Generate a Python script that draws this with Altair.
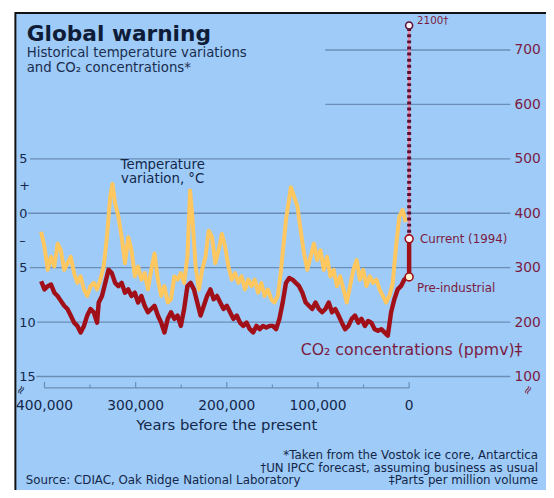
import altair as alt
import pandas as pd

# ---------------- data ----------------
# Temperature variation (deg C), thousands of years before present
temp_kyr = [403.6, 400.0, 396.4, 392.8, 389.2, 385.6, 382.0, 378.4, 374.8, 371.2,
            367.5, 363.9, 360.3, 356.7, 353.1, 349.5, 345.9, 342.3, 338.7, 335.1,
            331.5, 327.9, 325.4, 322.5, 318.9, 315.3, 311.7, 308.1, 304.5, 300.9,
            297.3, 293.7, 290.1, 286.5, 282.9, 279.3, 275.6, 272.0, 268.4, 264.8,
            261.2, 257.6, 254.0, 250.4, 246.8, 243.2, 240.3, 237.8, 234.2, 230.6,
            227.0, 223.4, 219.8, 216.2, 212.6, 209.0, 205.4, 201.8, 198.2, 194.6,
            190.9, 187.3, 183.7, 180.1, 176.5, 172.9, 169.3, 165.7, 162.1, 158.5,
            154.9, 151.3, 147.7, 144.1, 140.5, 135.1, 129.7, 126.1, 122.5, 118.9,
            115.3, 111.7, 108.1, 104.5, 100.9, 97.2, 93.6, 90.0, 86.4, 82.8,
            79.2, 75.6, 72.0, 68.4, 64.8, 61.2, 57.6, 54.0, 50.4, 46.8,
            43.2, 39.6, 36.0, 32.4, 28.8, 25.2, 21.6, 18.0, 14.4, 10.8,
            7.2, 3.6]
temp_c = [-1.7, -3.1, -5.2, -4.0, -4.9, -2.8, -3.4, -5.2, -4.6, -4.0,
          -5.5, -6.4, -5.8, -7.0, -7.6, -6.7, -6.4, -7.0, -6.1, -4.9,
          -2.2, 1.5, 2.7, 0.9, -0.3, -2.2, -4.6, -2.2, -3.4, -5.8,
          -4.9, -6.1, -5.5, -7.0, -5.2, -3.7, -6.1, -7.6, -6.7, -8.2,
          -7.9, -5.8, -6.1, -5.5, -6.4, -4.0, 2.1, -0.3, -4.9, -7.0,
          -5.2, -4.0, -1.6, -2.2, -4.6, -3.4, -1.9, -3.1, -4.9, -6.1,
          -5.5, -6.4, -5.8, -7.0, -6.1, -6.7, -6.1, -7.3, -6.4, -7.6,
          -7.0, -7.9, -8.2, -7.6, -5.2, -0.6, 2.4, 1.5, 0.6, -1.6,
          -3.7, -5.2, -4.0, -2.8, -4.3, -3.4, -5.2, -4.0, -5.8, -5.2,
          -6.7, -5.8, -7.0, -8.2, -6.7, -5.2, -4.3, -6.1, -5.2, -6.7,
          -5.8, -6.4, -6.1, -7.0, -7.6, -8.2, -7.6, -6.4, -3.1, -0.3,
          0.3, -0.8]

# CO2 concentrations (ppmv), thousands of years before present
co2_kyr = [403.6, 400.0, 396.4, 392.8, 389.2, 385.6, 382.0, 378.4, 374.8, 371.2,
           367.5, 363.9, 360.3, 356.7, 353.1, 349.5, 345.9, 342.3, 340.5, 336.9,
           333.3, 329.7, 326.1, 322.5, 318.9, 315.3, 311.7, 308.1, 304.5, 300.9,
           297.3, 293.7, 290.1, 286.5, 282.9, 279.3, 275.6, 272.0, 268.4, 264.8,
           261.2, 257.6, 254.0, 250.4, 246.8, 243.2, 239.6, 236.0, 232.4, 228.8,
           225.2, 221.6, 218.0, 214.4, 210.8, 207.2, 203.6, 200.0, 196.4, 192.8,
           189.1, 185.5, 181.9, 178.3, 174.7, 171.1, 167.5, 163.9, 160.3, 156.7,
           153.1, 149.5, 145.9, 142.3, 138.7, 135.1, 131.5, 127.9, 124.3, 120.7,
           117.1, 113.5, 109.9, 106.3, 102.7, 99.0, 95.4, 91.8, 88.2, 84.6,
           81.0, 77.4, 73.8, 70.2, 66.6, 63.0, 59.4, 55.8, 52.2, 48.6,
           45.0, 41.4, 37.8, 34.2, 30.6, 27.0, 23.4, 19.8, 16.2, 12.6,
           9.0, 5.4, 1.8, 0.0, 0.0]
co2_ppmv = [275, 260, 266, 269, 254, 248, 239, 230, 224, 212,
            199, 193, 181, 193, 212, 224, 218, 199, 236, 248,
            272, 296, 290, 272, 266, 272, 254, 260, 248, 254,
            236, 248, 230, 218, 224, 230, 212, 199, 181, 206,
            218, 206, 212, 193, 224, 266, 272, 260, 236, 212,
            230, 248, 260, 242, 248, 236, 224, 230, 218, 206,
            212, 199, 193, 199, 187, 181, 193, 187, 193, 190,
            193, 193, 187, 206, 236, 272, 281, 278, 272, 266,
            254, 236, 230, 224, 236, 224, 218, 224, 236, 218,
            224, 212, 199, 187, 193, 206, 212, 199, 206, 193,
            202, 199, 187, 184, 187, 181, 175, 218, 242, 260,
            266, 278, 283, 283, 353]

forecast_kyr = [0, 0]
forecast_ppmv = [353, 745]

point_names = ["2100\u2020", "Current (1994)", "Pre-industrial"]
point_kyr = [0, 0, 0]
point_ppmv = [745, 353, 283]

grid_ppmv = [700, 600, 500, 400, 300, 200, 100]
grid_start_kyr = [92, 92, 416, 418, 416, 408, 409]
grid_end_kyr = [-111, -111, -111, -111, -111, -111, -111]

major_ticks_kyr = [400, 300, 200, 100, 0]
minor_ticks_kyr = [350, 250, 150, 50]
temp_tick_values = [5, 2.5, 0, -2.5, -5, -10, -15]
co2_tick_values = [100, 200, 300, 400, 500, 600, 700]

subtitle_lines = ["Historical temperature variations", "and CO\u2082 concentrations*"]
temp_label_lines = ["Temperature", "variation, \u00b0C"]

# ---------------- style ----------------
NAVY = "#14274a"
MAROON = "#7b1b43"
GRID = "#6b8eb6"
BLUE = "#9ecbf7"
YELLOW = "#ffc760"
RED = "#a10f19"
FONT = "DejaVu Sans"
W, H = 495, 375

xs = alt.Scale(domain=[-115, 420], reverse=True, nice=False, zero=False)
ys = alt.Scale(domain=[79, 758], nice=False, zero=False)
ts = alt.Scale(domain=[-16.05, 17.9], nice=False, zero=False)

right_axis = alt.Axis(orient="right", values=co2_tick_values, domain=False, ticks=False,
                      tickSize=0, grid=False, labelAlign="left", labelBaseline="middle",
                      labelPadding=0, labelFont=FONT, labelFontSize=14, labelColor=MAROON,
                      labelOverlap=False, labelFlush=False, title=None, zindex=2)
left_axis = alt.Axis(orient="left", values=temp_tick_values,
                     labelExpr="datum.value == 2.5 ? '+' : (datum.value == -2.5 ? '\u2013' : format(abs(datum.value), 'd'))",
                     domain=False, ticks=False, tickSize=0, grid=False, labelAlign="left",
                     labelBaseline="middle", labelPadding=7.5, labelFont=FONT, labelFontSize=13,
                     labelColor=NAVY, labelOverlap=False, labelFlush=False, title=None,
                     zindex=2)

one = pd.DataFrame({"k": [0]})
grid_df = pd.DataFrame({"ppmv": grid_ppmv, "start": grid_start_kyr, "end": grid_end_kyr})
temp_df = pd.DataFrame({"kyr": temp_kyr, "t": temp_c})
co2_df = pd.DataFrame({"kyr": co2_kyr, "ppmv": co2_ppmv, "i": list(range(len(co2_kyr)))})
fc_df = pd.DataFrame({"kyr": forecast_kyr, "ppmv": forecast_ppmv})
pt_df = pd.DataFrame({"name": point_names, "kyr": point_kyr, "ppmv": point_ppmv})
axis_df = pd.DataFrame({"a": [major_ticks_kyr[0]], "b": [major_ticks_kyr[-1]]})
major_df = pd.DataFrame({"k": major_ticks_kyr})
minor_df = pd.DataFrame({"k": minor_ticks_kyr})


def xq(field):
    return alt.X(field, type="quantitative", scale=xs, axis=None)


def yq(field):
    return alt.Y(field, type="quantitative", scale=ys, axis=None)


def txt(text, x, y, size, color=NAVY, align="left", weight="normal",
        baseline="alphabetic", angle=0, line_height=12):
    return alt.Chart(one).mark_text(
        text=text, align=align, baseline=baseline, font=FONT, fontSize=size,
        fontWeight=weight, color=color, angle=angle, lineHeight=line_height
    ).encode(x=alt.value(x), y=alt.value(y))


# ---------------- background layer ----------------
panel = alt.Chart(one).mark_rect(fill=BLUE, stroke="#111111", strokeWidth=2).encode(
    x=alt.value(-11), x2=alt.value(900), y=alt.value(-5.5), y2=alt.value(900))

grid = alt.Chart(grid_df).mark_rule(color=GRID, strokeWidth=1.3).encode(
    x=xq("start"), x2="end:Q",
    y=alt.Y("ppmv:Q", scale=ys, axis=right_axis))

axis_line = alt.Chart(axis_df).mark_rule(color=GRID, strokeWidth=1.2).encode(
    x=xq("a"), x2="b:Q", y=alt.value(H))
major = alt.Chart(major_df).mark_rule(color=GRID, strokeWidth=1.2).encode(
    x=xq("k"), y=alt.value(H), y2=alt.value(H - 6))
minor = alt.Chart(minor_df).mark_rule(color=GRID, strokeWidth=1.2).encode(
    x=xq("k"), y=alt.value(H), y2=alt.value(H - 3.5))
x_labels = alt.Chart(major_df).transform_calculate(
    lab="format(datum.k * 1000, ',')"
).mark_text(baseline="middle", align="center", font=FONT, fontSize=14, color=NAVY).encode(
    x=xq("k"), y=alt.value(H + 18), text="lab:N")

bg = alt.layer(panel, grid, axis_line, major, minor, x_labels)

# ---------------- temperature layer ----------------
temp_line = alt.Chart(temp_df).mark_line(color=YELLOW, strokeWidth=4, strokeJoin="round").encode(
    x=xq("kyr"), y=alt.Y("t:Q", scale=ts, axis=left_axis))

# ---------------- CO2 and annotations ----------------
co2_line = alt.Chart(co2_df).mark_line(color=RED, strokeWidth=4.5, strokeJoin="round").encode(
    x=xq("kyr"), y=yq("ppmv"), order="i:Q")
fc_pink = alt.Chart(fc_df).mark_line(color="#e48aa9", strokeWidth=2.5).encode(
    x=xq("kyr"), y=yq("ppmv"))
fc_dots = alt.Chart(fc_df).mark_line(color="#5a0f33", strokeWidth=4, strokeDash=[3, 3.2]).encode(
    x=xq("kyr"), y=yq("ppmv"))


def marker(name, fill, stroke, size):
    return alt.Chart(pt_df).transform_filter(alt.datum.name == name).mark_point(
        shape="circle", filled=True, fill=fill, stroke=stroke, strokeWidth=1.6,
        size=size, opacity=1).encode(x=xq("kyr"), y=yq("ppmv"))


def marker_label(name, dx, dy, size):
    return alt.Chart(pt_df).transform_filter(alt.datum.name == name).mark_text(
        align="left", baseline="middle", dx=dx, dy=dy, font=FONT, fontSize=size,
        color=MAROON).encode(x=xq("kyr"), y=yq("ppmv"), text="name:N")


fg = alt.layer(
    co2_line, fc_pink, fc_dots,
    marker(point_names[0], "#fff4f6", "#5a0f33", 50),
    marker(point_names[1], "#fffaf5", RED, 64),
    marker(point_names[2], "#fff5cf", RED, 64),
    marker_label(point_names[0], 8, -5, 10.5),
    marker_label(point_names[1], 11, 0, 12),
    marker_label(point_names[2], 8, 11, 12),
    txt("Global warning", 0.5, 23, 22, color="#0e1c38", weight="bold"),
    txt(subtitle_lines, 0.5, 39.5, 13.5, color="#1b2d4f", line_height=14.5),
    txt(temp_label_lines, 138.5, 153, 13.5, align="center", line_height=14.5),
    txt("CO\u2082 concentrations (ppmv)\u2021", 278.5, 342, 16, color=MAROON),
    txt("Years before the present", 203.5, 413, 15, align="center", baseline="middle"),
    txt("\u2248", -5.5, 377, 12, baseline="middle", align="center", angle=300),
    txt("\u2248", 509, 377, 12, color=MAROON, baseline="middle", align="center", angle=300),
    txt("*Taken from the Vostok ice core, Antarctica", 519.5, 447, 12, align="right"),
    txt("\u2020UN IPCC forecast, assuming business as usual", 519.5, 460, 12, align="right"),
    txt("\u2021Parts per million volume", 519.5, 473, 12, align="right"),
    txt("Source: CDIAC, Oak Ridge National Laboratory", -0.5, 473, 12),
)

chart = alt.layer(bg, temp_line, fg).resolve_scale(y="independent").properties(
    width=W, height=H,
    padding={"left": 18.5, "top": 7, "right": 32.5, "bottom": 100},
    autosize=alt.AutoSizeParams(type="none"),
    background="white",
).configure_view(strokeWidth=0)

chart.save("out.html", embed_options={"renderer": "svg", "actions": False})
